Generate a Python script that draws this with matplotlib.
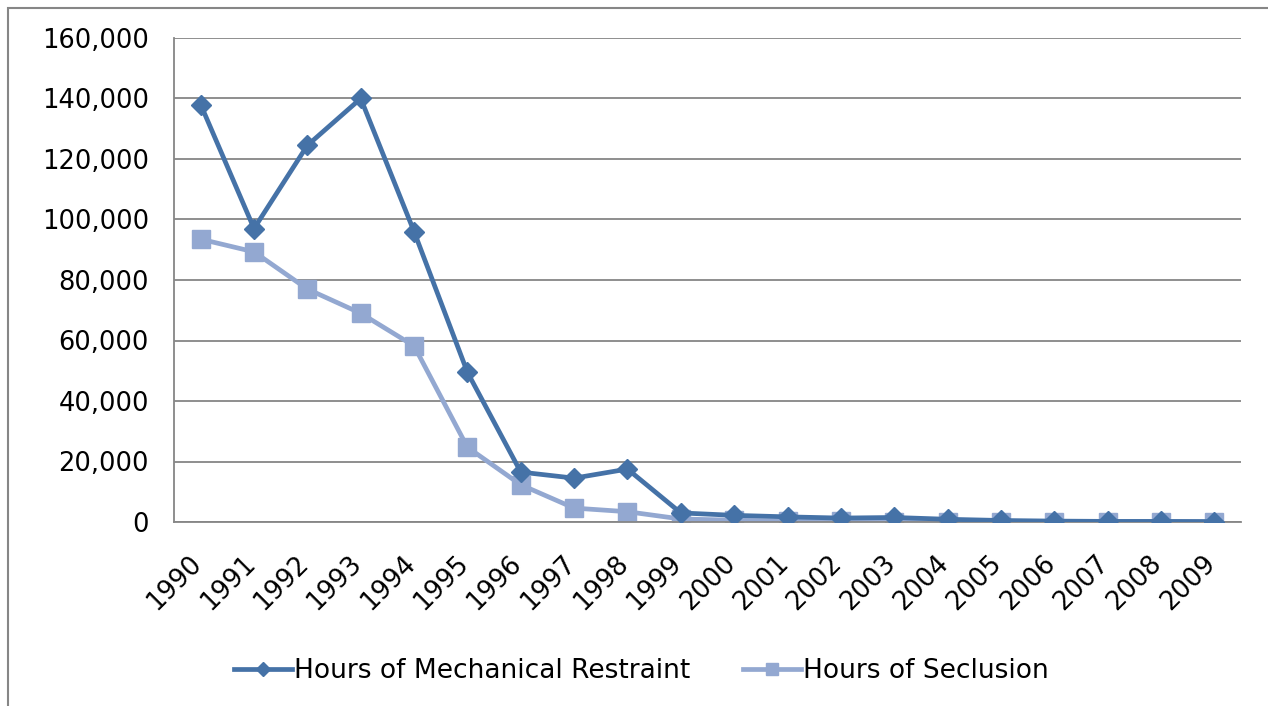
import matplotlib.pyplot as plt
import matplotlib.patches as mpatches
import matplotlib.transforms as mtransforms
from matplotlib.ticker import FuncFormatter

# data
years = [str(y) for y in range(1990, 2010)]
mechanical_restraint = [138000, 97000, 124500, 140000, 96000, 49500, 16500, 14500, 17500, 3000,
                        2200, 1700, 1300, 1500, 900, 500, 300, 200, 200, 150]
seclusion = [93500, 89300, 77000, 69000, 58200, 24700, 12300, 4600, 3400, 1000,
             600, 300, 200, 150, 100, 80, 50, 50, 40, 30]

W, H = 1268, 706
fig = plt.figure(figsize=(W / 100, H / 100), dpi=100)
ax = fig.add_axes([174 / W, 1 - 522 / H, (1241 - 174) / W, (522 - 38) / H])

grid_color = '#868686'
dark_blue = '#4572A7'
light_blue = '#93A8D1'

x = list(range(len(years)))
ax.plot(x, mechanical_restraint, color=dark_blue, lw=3.4, marker='D', ms=10,
        label='Hours of Mechanical Restraint', zorder=3)
ax.plot(x, seclusion, color=light_blue, lw=3.4, marker='s', ms=13,
        label='Hours of Seclusion', zorder=2)

ax.set_xlim(-0.5, len(years) - 0.5)
ax.set_ylim(0, 160000)
ax.set_yticks(range(0, 160001, 20000))
ax.yaxis.set_major_formatter(FuncFormatter(lambda v, p: f'{int(v):,}'))
ax.set_xticks(x)
ax.set_xticklabels(years, rotation=45, ha='right', rotation_mode='anchor')

ax.grid(axis='y', color=grid_color, lw=1.3)
ax.set_axisbelow(True)
for side in ['top', 'right']:
    ax.spines[side].set_visible(False)
for side in ['left', 'bottom']:
    ax.spines[side].set_color(grid_color)
    ax.spines[side].set_linewidth(1.3)
ax.tick_params(axis='both', length=0, labelsize=18.5, colors='black')
ax.tick_params(axis='y', pad=18)
ax.tick_params(axis='x', pad=20.5)

# nudge the rotated year labels a little to the left
shift = mtransforms.ScaledTranslation(-0.12, 0, fig.dpi_scale_trans)
for lbl in ax.get_xticklabels():
    lbl.set_transform(lbl.get_transform() + shift)

fig.legend(loc='center', bbox_to_anchor=(0.506, 1 - 671 / H), ncol=2, frameon=False,
           fontsize=19, handlelength=2.2, handletextpad=0.08, columnspacing=2.0,
           markerscale=0.7)

# outer chart border, cut off at right and bottom like the reference
border = mpatches.Rectangle((8 / W, -0.5), 2, 1.5 - 8 / H, transform=fig.transFigure,
                            fill=False, edgecolor=grid_color, lw=1.5)
fig.patches.append(border)

fig.savefig('out.png', dpi=100)
